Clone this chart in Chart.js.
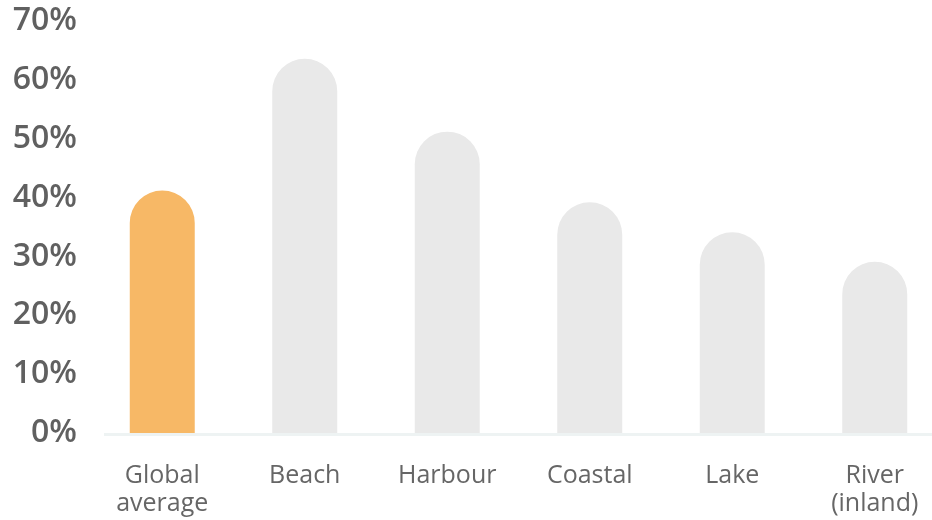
<!DOCTYPE html>
<html lang="en">
<head>
  <meta charset="UTF-8">
  <title>Share by location</title>
  <script src="https://cdn.jsdelivr.net/npm/chart.js"></script>
  <style>
    html, body { margin: 0; padding: 0; background: #fff; overflow: hidden; }
    #wrap { width: 946px; height: 520px; }
  </style>
</head>
<body>

<div id="wrap">
  <canvas id="locChart"></canvas>
</div>

<script>
  // Data
  const categories = [['Global', 'average'], 'Beach', 'Harbour', 'Coastal', 'Lake', ['River', '(inland)']];
  const shareValues = [41.2, 63.6, 51.2, 39.2, 34.1, 29.1];
  const yTicks = [0, 10, 20, 30, 40, 50, 60, 70];

  const barColors = ['#f7b866', '#e9e9e9', '#e9e9e9', '#e9e9e9', '#e9e9e9', '#e9e9e9'];

  // light baseline under the bars
  const baseline = {
    id: 'baseline',
    beforeDatasetsDraw(chart) {
      const ctx = chart.ctx;
      const y = chart.scales.y.getPixelForValue(0) + 1.5;
      ctx.save();
      ctx.strokeStyle = '#eef3f3';
      ctx.lineWidth = 3;
      ctx.beginPath();
      ctx.moveTo(chart.chartArea.left + 13, y);
      ctx.lineTo(chart.chartArea.right, y);
      ctx.stroke();
      ctx.restore();
    }
  };

  new Chart(document.getElementById('locChart'), {
    type: 'bar',
    data: {
      labels: categories,
      datasets: [{
        data: shareValues,
        backgroundColor: barColors,
        borderRadius: 40,
        borderSkipped: 'start',
        categoryPercentage: 1,
        barPercentage: 0.456
      }]
    },
    options: {
      responsive: true,
      maintainAspectRatio: false,
      animation: false,
      layout: { padding: { top: 21, left: 0, right: 0, bottom: 0 } },
      plugins: { legend: { display: false }, tooltip: { enabled: false } },
      scales: {
        x: {
          grid: { display: false },
          border: { display: false },
          afterFit(scale) { scale.height = 87; },
          ticks: {
            color: '#666',
            padding: 21,
            maxRotation: 0,
            autoSkip: false,
            font: { family: 'Open Sans', size: 25, weight: '400', lineHeight: 1.12 }
          }
        },
        y: {
          min: 0,
          max: 70,
          afterFit(scale) { scale.width = 91; scale.paddingTop = 0; },
          afterBuildTicks(scale) { scale.ticks = yTicks.map(v => ({ value: v })); },
          grid: { display: false },
          border: { display: false },
          ticks: {
            color: '#606060',
            padding: 6,
            font: { family: 'Open Sans', size: 32, weight: '600', lineHeight: 1 },
            callback: v => v + '%'
          }
        }
      }
    },
    plugins: [baseline]
  });
</script>

</body>
</html>
